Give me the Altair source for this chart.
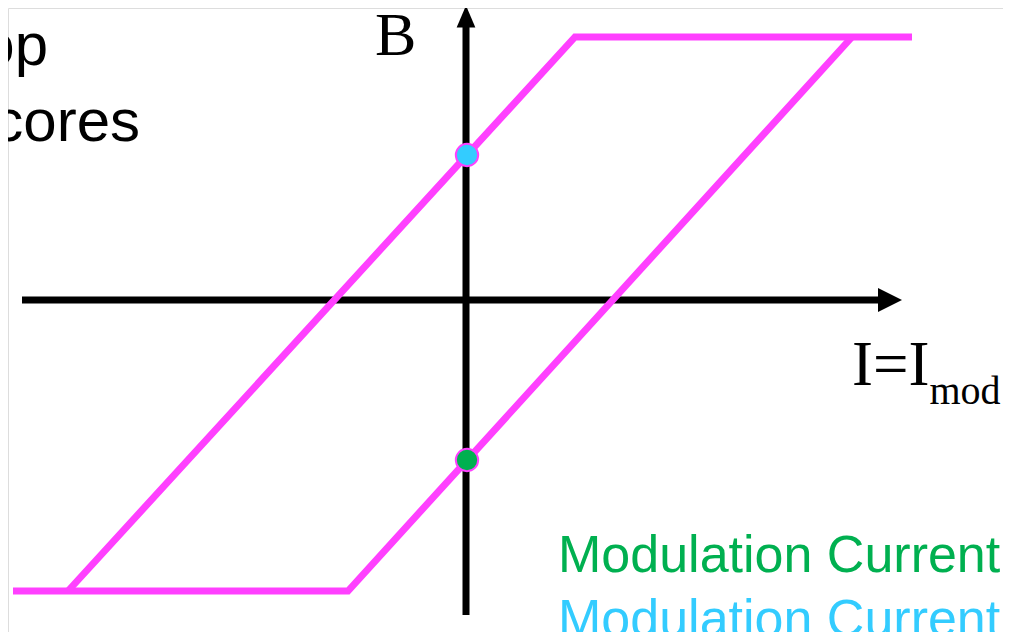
import altair as alt
import pandas as pd

# ---- diagram data (I, B in diagram units; origin at the axes crossing) ----
loop_branch = ["rising", "rising", "rising", "falling", "falling", "falling"]
loop_order = [0, 1, 2, 0, 1, 2]
loop_I = [-4.53, -1.18, 3.86, 4.46, 1.09, -3.98]
loop_B = [-2.91, -2.91, 2.63, 2.63, 2.63, -2.91]

dot_name = ["cyan", "green"]
dot_I = [0.01, 0.01]
dot_B = [1.45, -1.60]
dot_colors = ["#33CCFF", "#00B050"]

axis_name = ["I", "I", "B", "B"]
axis_I = [-4.44, 4.14, 0.0, 0.0]
axis_B = [0.0, 0.0, -3.15, 2.75]

arrow_name = ["I", "B"]
arrow_I = [4.24, 0.0]
arrow_B = [0.0, 2.835]

PINK = "#FF40FF"
XS = alt.Scale(domain=[-4.58, 5.37], nice=False, zero=False)
YS = alt.Scale(domain=[-3.32, 2.92], nice=False, zero=False)


def xy(df_x="I", df_y="B"):
    return dict(x=alt.X(f"{df_x}:Q", scale=XS, axis=None),
                y=alt.Y(f"{df_y}:Q", scale=YS, axis=None))


loop_df = pd.DataFrame({"branch": loop_branch, "o": loop_order, "I": loop_I, "B": loop_B})
dots_df = pd.DataFrame({"name": dot_name, "I": dot_I, "B": dot_B, "c": dot_colors})
axes_df = pd.DataFrame({"name": axis_name, "I": axis_I, "B": axis_B})
arrows_df = pd.DataFrame({"name": arrow_name, "I": arrow_I, "B": arrow_B})

axes = alt.Chart(axes_df).mark_line(color="black", strokeWidth=7).encode(
    detail="name:N", **xy())

arrow_right = alt.Chart(arrows_df[arrows_df.name == "I"]).mark_point(
    shape="M-1,-1L1,0L-1,1Z", filled=True, color="black", opacity=1, size=576
).encode(**xy())
arrow_up = alt.Chart(arrows_df[arrows_df.name == "B"]).mark_point(
    shape="M-0.85,1L0,-1L0.85,1Z", filled=True, color="black", opacity=1, size=484
).encode(**xy())

loop = alt.Chart(loop_df).mark_line(color=PINK, strokeWidth=7, strokeJoin="miter").encode(
    detail="branch:N", order="o:Q", **xy())

dots = alt.Chart(dots_df).mark_circle(size=500, opacity=1, stroke=PINK, strokeWidth=2).encode(
    color=alt.Color("c:N", scale=None), **xy())


def label(text, I, B, font, size, color="black", align="left"):
    df = pd.DataFrame({"t": [text], "I": [I], "B": [B]})
    return alt.Chart(df).mark_text(
        font=font, fontSize=size, color=color, align=align, baseline="alphabetic"
    ).encode(text="t:N", **xy())


texts = [
    label("B", -0.91, 2.45, "Liberation Serif", 62),
    label("I=I", 3.86, -0.85, "Liberation Serif", 63),
    label("mod", 4.635, -1.04, "Liberation Serif", 40),
    label("loop", -4.18, 2.35, "Liberation Sans", 60, align="right"),
    label("cores", -3.26, 1.59, "Liberation Sans", 60, align="right"),
    label("Modulation Current", 0.92, -2.72, "Liberation Sans", 52, color="#00B050"),
    label("Modulation Current", 0.92, -3.36, "Liberation Sans", 52, color="#33CCFF"),
]

chart = alt.layer(axes, loop, arrow_right, arrow_up, dots, *texts).properties(
    width=995, height=624, padding=0, autosize=alt.AutoSizeParams(type="none")
).configure_view(stroke=None).configure(background="white")

chart.save("out.html", embed_options={"renderer": "svg", "actions": False})
